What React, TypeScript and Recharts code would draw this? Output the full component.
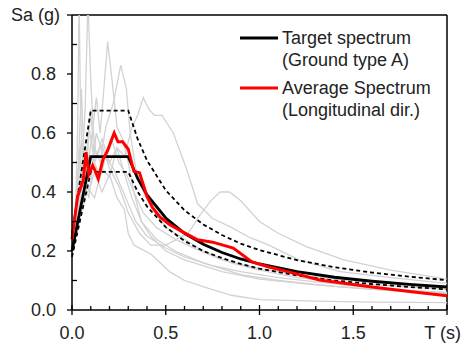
import { Legend, Line, LineChart, ReferenceLine, XAxis, YAxis } from "recharts";

// target spectrum (ground type A) and its +30% / -10% bounds
const TARGET_T = [0, 0.1, 0.3, 0.35, 0.4, 0.5, 0.6, 0.7, 0.8, 0.9, 1.0, 1.2, 1.4, 1.6, 1.8, 2.0];
const TARGET_SA = [0.2, 0.52, 0.52, 0.446, 0.39, 0.312, 0.26, 0.223, 0.195, 0.173, 0.156, 0.13, 0.111, 0.0975, 0.0867, 0.078];
const UPPER_SA = [0.26, 0.676, 0.676, 0.58, 0.507, 0.406, 0.338, 0.29, 0.254, 0.225, 0.203, 0.169, 0.145, 0.127, 0.113, 0.101];
const LOWER_SA = [0.18, 0.468, 0.468, 0.401, 0.351, 0.281, 0.234, 0.2, 0.176, 0.156, 0.14, 0.117, 0.1, 0.088, 0.078, 0.07];

// average spectrum, longitudinal direction
const AVG_T = [0, 0.03, 0.06, 0.075, 0.09, 0.11, 0.125, 0.14, 0.165, 0.19, 0.21, 0.225, 0.245, 0.27, 0.3, 0.33, 0.36, 0.4, 0.43, 0.47, 0.52, 0.59, 0.67, 0.75, 0.86, 0.96, 1.05, 1.15, 1.32, 1.6, 1.8, 2.0];
const AVG_SA = [0.24, 0.385, 0.44, 0.535, 0.46, 0.49, 0.47, 0.445, 0.51, 0.54, 0.575, 0.6, 0.57, 0.57, 0.545, 0.47, 0.465, 0.385, 0.347, 0.315, 0.29, 0.265, 0.238, 0.23, 0.21, 0.163, 0.146, 0.13, 0.102, 0.078, 0.063, 0.048];

// single records [T, Sa]
const REC_1 = [[0, 0.2], [0.02, 0.35], [0.03, 0.62], [0.038, 1.05], [0.045, 0.7], [0.055, 0.5], [0.07, 0.68], [0.085, 1.05], [0.1, 0.78], [0.115, 0.6], [0.13, 0.52], [0.16, 0.58], [0.2, 0.5], [0.24, 0.55], [0.28, 0.46], [0.32, 0.38], [0.37, 0.3], [0.45, 0.24], [0.55, 0.2], [0.7, 0.16], [0.9, 0.12], [1.1, 0.1], [1.4, 0.08], [1.7, 0.066], [2, 0.056]];
const REC_2 = [[0, 0.2], [0.03, 0.32], [0.05, 0.5], [0.07, 0.42], [0.1, 0.56], [0.13, 0.72], [0.15, 0.6], [0.17, 0.75], [0.19, 0.91], [0.21, 0.8], [0.24, 0.62], [0.27, 0.58], [0.3, 0.5], [0.33, 0.4], [0.37, 0.3], [0.42, 0.25], [0.5, 0.2], [0.6, 0.17], [0.8, 0.13], [1.0, 0.105], [1.3, 0.085], [1.6, 0.07], [2, 0.058]];
const REC_3 = [[0, 0.2], [0.03, 0.3], [0.06, 0.45], [0.09, 0.38], [0.12, 0.55], [0.15, 0.5], [0.18, 0.62], [0.22, 0.7], [0.26, 0.83], [0.29, 0.75], [0.31, 0.6], [0.34, 0.48], [0.38, 0.4], [0.43, 0.34], [0.5, 0.28], [0.6, 0.24], [0.7, 0.2], [0.85, 0.16], [1.0, 0.135], [1.2, 0.11], [1.5, 0.09], [2, 0.07]];
const REC_4 = [[0, 0.2], [0.04, 0.3], [0.08, 0.42], [0.12, 0.38], [0.16, 0.48], [0.2, 0.45], [0.24, 0.55], [0.28, 0.52], [0.32, 0.62], [0.35, 0.66], [0.38, 0.72], [0.41, 0.68], [0.44, 0.66], [0.48, 0.66], [0.54, 0.6], [0.61, 0.48], [0.67, 0.36], [0.75, 0.31], [0.85, 0.28], [0.95, 0.245], [1.05, 0.22], [1.21, 0.17], [1.43, 0.13], [1.7, 0.11], [2, 0.09]];
const REC_5 = [[0, 0.2], [0.03, 0.4], [0.05, 0.58], [0.07, 0.48], [0.09, 0.62], [0.12, 0.5], [0.16, 0.56], [0.2, 0.48], [0.25, 0.42], [0.3, 0.33], [0.36, 0.26], [0.42, 0.22], [0.5, 0.22], [0.56, 0.24], [0.62, 0.26], [0.68, 0.32], [0.74, 0.37], [0.79, 0.4], [0.84, 0.4], [0.9, 0.37], [1.0, 0.3], [1.1, 0.26], [1.25, 0.215], [1.45, 0.17], [1.7, 0.135], [2, 0.105]];
const REC_6 = [[0, 0.2], [0.03, 0.3], [0.06, 0.52], [0.09, 0.4], [0.12, 0.47], [0.16, 0.4], [0.2, 0.46], [0.24, 0.38], [0.28, 0.34], [0.3, 0.26], [0.33, 0.22], [0.36, 0.21], [0.42, 0.19], [0.47, 0.16], [0.52, 0.13], [0.6, 0.1], [0.72, 0.075], [0.85, 0.05], [1.0, 0.035], [1.3, 0.03], [1.6, 0.027], [2, 0.025]];
const REC_7 = [[0, 0.2], [0.02, 0.3], [0.04, 0.55], [0.06, 0.4], [0.08, 0.5], [0.1, 0.68], [0.12, 0.5], [0.15, 0.45], [0.18, 0.52], [0.22, 0.48], [0.26, 0.42], [0.3, 0.36], [0.34, 0.3], [0.4, 0.25], [0.5, 0.21], [0.6, 0.18], [0.75, 0.15], [0.9, 0.13], [1.1, 0.11], [1.3, 0.095], [1.6, 0.075], [2, 0.06]];
const REC_8 = [[0, 0.2], [0.02, 0.28], [0.05, 0.75], [0.065, 0.5], [0.08, 0.55], [0.1, 0.45], [0.13, 0.6], [0.17, 0.52], [0.21, 0.58], [0.25, 0.5], [0.29, 0.46], [0.33, 0.4], [0.38, 0.33], [0.45, 0.28], [0.55, 0.24], [0.65, 0.21], [0.8, 0.17], [1.0, 0.14], [1.25, 0.115], [1.5, 0.1], [1.75, 0.085], [2, 0.075]];
const RECORDS = [REC_1, REC_2, REC_3, REC_4, REC_5, REC_6, REC_7, REC_8];

const X_TICKS = [0, 0.1, 0.2, 0.3, 0.4, 0.5, 0.6, 0.7, 0.8, 0.9, 1.0, 1.1, 1.2, 1.3, 1.4, 1.5, 1.6, 1.7, 1.8, 1.9, 2.0];
const Y_TICKS = [0, 0.1, 0.2, 0.3, 0.4, 0.5, 0.6, 0.7, 0.8, 0.9, 1.0];
const X_LABELS: Record<number, string> = { 0: "0.0", 5: "0.5", 10: "1.0", 15: "1.5", 20: "T (s)" };
const Y_LABELS: Record<number, string> = { 0: "0.0", 2: "0.2", 4: "0.4", 6: "0.6", 8: "0.8", 10: "Sa (g)" };

const FONT = "'Liberation Sans', Arial, sans-serif";
const GREY = "#d2d2d2";

const pts = (t: number[], sa: number[]) => t.map((v, i) => ({ T: v, Sa: sa[i] }));
const pairs = (p: number[][]) => p.map(([t, sa]) => ({ T: t, Sa: sa }));

const XTick = ({ x, y, payload }: any) => {
  const k = Math.round(payload.value * 10);
  const major = k % 5 === 0;
  // last label sits left-shifted so it stays in the picture
  const last = k === 20;
  return (
    <g>
      <line x1={x} x2={x} y1={y - (major ? 5 : 4)} y2={y + (major ? 5 : 0)} stroke="#000" strokeWidth={1.3} />
      {major && (
        <text
          x={last ? x + 14 : x}
          y={y + 29}
          textAnchor={last ? "end" : "middle"}
          fontSize={18}
          fontFamily={FONT}
          fill="#222"
        >
          {X_LABELS[k]}
        </text>
      )}
    </g>
  );
};

const YTick = ({ x, y, payload }: any) => {
  const k = Math.round(payload.value * 10);
  const major = k % 2 === 0;
  return (
    <g>
      <line x1={major ? x - 5 : x} x2={major ? x : x + 5} y1={y} y2={y} stroke="#000" strokeWidth={1.3} />
      {major && (
        <text x={k === 10 ? x - 12 : x - 16} y={y} dy="0.36em" textAnchor="end" fontSize={18} fontFamily={FONT} fill="#222">
          {Y_LABELS[k]}
        </text>
      )}
    </g>
  );
};

const LegendBox = () => {
  const row = (color: string, l1: string, l2: string) => (
    <div style={{ display: "flex", alignItems: "flex-start", marginBottom: 6 }}>
      <svg width={44} height={22}>
        <line x1={2} x2={40} y1={11} y2={11} stroke={color} strokeWidth={3} />
      </svg>
      <div style={{ fontSize: 18, lineHeight: "22px", color: "#222", fontFamily: FONT }}>
        <div>{l1}</div>
        <div>{l2}</div>
      </div>
    </div>
  );
  return (
    <div>
      {row("#000", "Target spectrum", "(Ground type A)")}
      {row("#ff0000", "Average Spectrum", "(Longitudinal dir.)")}
    </div>
  );
};

export default function App() {
  const target = pts(TARGET_T, TARGET_SA);
  const upper = pts(TARGET_T, UPPER_SA);
  const lower = pts(TARGET_T, LOWER_SA);
  const avg = pts(AVG_T, AVG_SA);

  return (
    <div style={{ position: "absolute", left: 0, top: 0, background: "#fff" }}>
      <LineChart width={463} height={345} margin={{ top: 15, right: 16, bottom: 0, left: 0 }}>
        <XAxis
          dataKey="T"
          type="number"
          domain={[0, 2]}
          ticks={X_TICKS}
          interval={0}
          height={35}
          tickSize={0}
          tickMargin={0}
          tickLine={false}
          tick={<XTick />}
          axisLine={{ stroke: "#000", strokeWidth: 1.5 }}
        />
        <YAxis
          type="number"
          domain={[0, 1]}
          allowDataOverflow
          ticks={Y_TICKS}
          interval={0}
          width={72}
          tickSize={0}
          tickMargin={0}
          tickLine={false}
          tick={<YTick />}
          axisLine={{ stroke: "#000", strokeWidth: 1.5 }}
        />
        <ReferenceLine y={1} stroke="#000" strokeWidth={1.5} />
        <ReferenceLine x={2} stroke="#000" strokeWidth={1.5} />

        {RECORDS.map((r, i) => (
          <Line
            key={i}
            data={pairs(r)}
            dataKey="Sa"
            type="linear"
            stroke={GREY}
            strokeWidth={1.3}
            dot={false}
            isAnimationActive={false}
          />
        ))}
        <Line data={upper} dataKey="Sa" type="linear" stroke="#000" strokeWidth={1.8} strokeDasharray="4 3" dot={false} isAnimationActive={false} />
        <Line data={lower} dataKey="Sa" type="linear" stroke="#000" strokeWidth={1.8} strokeDasharray="4 3" dot={false} isAnimationActive={false} />
        <Line data={target} dataKey="Sa" type="linear" stroke="#000" strokeWidth={2.8} dot={false} isAnimationActive={false} />
        <Line data={avg} dataKey="Sa" type="linear" stroke="#ff0000" strokeWidth={3} dot={false} isAnimationActive={false} />

        <Legend
          verticalAlign="middle"
          layout="horizontal"
          content={<LegendBox />}
          wrapperStyle={{ left: 238, top: 27, width: 220 }}
        />
      </LineChart>
    </div>
  );
}
